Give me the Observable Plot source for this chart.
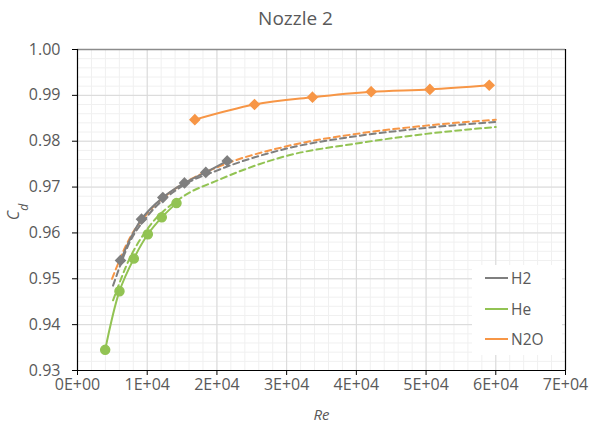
<!DOCTYPE html>
<html>
<head>
<meta charset="utf-8">
<script src="https://cdn.jsdelivr.net/npm/d3@7"></script>
<script src="https://cdn.jsdelivr.net/npm/@observablehq/plot@0.6"></script>
<style>
  body { margin: 0; background: #fff; }
  #wrap { position: relative; width: 590px; height: 427px; font-family: "Open Sans", sans-serif; }
  #legend { position: absolute; left: 472px; top: 265px; width: 90px; height: 90px; background: #fff; }
  .item { position: absolute; left: 0; height: 20px; display: flex; align-items: center; font-size: 15.5px; color: #595959; }
  .sw { display: inline-block; width: 23px; height: 2px; margin-left: 13px; margin-right: 3px; }
</style>
</head>
<body>
<div id="wrap"></div>
<script>
// ---- data ----
const seriesNames = ["H2", "He", "N2O"];
const seriesColors = ["#7f7f7f", "#92c353", "#f79646"];

// measured points
const h2Re  = [6170, 9180, 12240, 15350, 18400, 21480];
const h2Cd  = [0.9540, 0.9630, 0.9677, 0.9709, 0.9732, 0.9757];
const heRe  = [3970, 6020, 8080, 10090, 12090, 14200];
const heCd  = [0.9345, 0.9473, 0.9544, 0.9597, 0.9634, 0.9665];
const n2oRe = [16830, 25390, 33710, 42130, 50540, 59060];
const n2oCd = [0.9847, 0.9880, 0.9896, 0.9908, 0.9913, 0.9922];

// dashed trend curves
const h2FitRe  = [5100, 7500, 10000, 15000, 20000, 30000, 40000, 50000, 60000];
const h2FitCd  = [0.9485, 0.9580, 0.9636, 0.9702, 0.9736, 0.9784, 0.9811, 0.9829, 0.9842];
const heFitRe  = [5100, 7500, 10000, 15000, 20000, 30000, 40000, 50000, 60000];
const heFitCd  = [0.9453, 0.9545, 0.9608, 0.9678, 0.9714, 0.9768, 0.9795, 0.9816, 0.9831];
const n2oFitRe = [4950, 7500, 10000, 15000, 20000, 30000, 40000, 50000, 60000];
const n2oFitCd = [0.9500, 0.9589, 0.9642, 0.9706, 0.9743, 0.9789, 0.9816, 0.9834, 0.9847];

// axes
const xTicks = [0, 10000, 20000, 30000, 40000, 50000, 60000, 70000];
const xTickLabels = ["0E+00", "1E+04", "2E+04", "3E+04", "4E+04", "5E+04", "6E+04", "7E+04"];
const yTicks = [0.93, 0.94, 0.95, 0.96, 0.97, 0.98, 0.99, 1.00];
const xMinor = d3.range(0, 70001, 2000);
const yMinor = d3.range(0, 36).map(i => 0.93 + i * 0.002);
const titleText = "Nozzle 2";
const xLabel = "Re";

// ---- tables ----
const mk = (name, re, cd) => re.map((r, i) => ({series: name, re: r, cd: cd[i]}));
const h2 = mk("H2", h2Re, h2Cd);
const he = mk("He", heRe, heCd);
const n2o = mk("N2O", n2oRe, n2oCd);
const h2Fit = mk("H2", h2FitRe, h2FitCd);
const heFit = mk("He", heFitRe, heFitCd);
const n2oFit = mk("N2O", n2oFitRe, n2oFitCd);

const txt = "#595959";
const chart = Plot.plot({
  width: 590,
  height: 427,
  marginTop: 49,
  marginBottom: 57,
  marginLeft: 77,
  marginRight: 25,
  style: {fontFamily: "'Open Sans', sans-serif", fontSize: "16px", background: "#fff", color: txt},
  x: {domain: [0, 70000]},
  y: {domain: [0.93, 1.0]},
  color: {domain: seriesNames, range: seriesColors},
  marks: [
    Plot.gridX(xMinor, {stroke: "#f0f0f0", strokeOpacity: 1}),
    Plot.gridY(yMinor, {stroke: "#f0f0f0", strokeOpacity: 1}),
    Plot.gridX(xTicks, {stroke: "#d9d9d9", strokeOpacity: 1}),
    Plot.gridY(yTicks, {stroke: "#d9d9d9", strokeOpacity: 1}),
    Plot.ruleY([1.0], {stroke: "#8c8c8c", strokeWidth: 1.5}),
    Plot.ruleX([70000], {stroke: "#000", strokeWidth: 1.2}),
    Plot.ruleX([0], {stroke: "#000", strokeWidth: 1.2}),
    Plot.ruleY([0.93], {stroke: "#000", strokeWidth: 1.2}),
    Plot.axisY({ticks: yTicks, tickFormat: d3.format(".2f"), tickSize: 5, tickPadding: 12, stroke: "#000", fill: txt, fontSize: 16, label: null}),
    Plot.axisX({ticks: xTicks, tickFormat: d => xTickLabels[xTicks.indexOf(d)], tickSize: 5, tickPadding: 3, stroke: "#000", fill: txt, fontSize: 16, label: null}),
    // dashed trend lines
    ...[n2oFit, h2Fit, heFit].map(d => Plot.line(d, {x: "re", y: "cd", stroke: "series", strokeWidth: 2, strokeDasharray: "6,4", curve: "monotone-x"})),
    // solid lines
    ...[h2, he, n2o].map(d => Plot.line(d, {x: "re", y: "cd", stroke: "series", strokeWidth: 2, curve: "catmull-rom"})),
    // markers
    Plot.dot(h2, {x: "re", y: "cd", fill: "series", stroke: "series", symbol: "diamond2", r: 4.3}),
    Plot.dot(he, {x: "re", y: "cd", fill: "series", stroke: "series", symbol: "circle", r: 4.5}),
    Plot.dot(n2o, {x: "re", y: "cd", fill: "series", stroke: "series", symbol: "diamond2", r: 4.3}),
    // title and x label
    Plot.text([titleText], {frameAnchor: "top", lineAnchor: "middle", dx: -26, dy: -31, fontSize: 19, fill: txt}),
    Plot.text([xLabel], {frameAnchor: "bottom", lineAnchor: "middle", dy: 45, fontStyle: "italic", fontSize: 15, fill: txt})
  ]
});

// y-axis title with subscript
const svg = d3.select(chart);
const yl = svg.append("text")
  .attr("transform", "translate(19,212) rotate(-90)")
  .attr("text-anchor", "middle")
  .attr("font-style", "italic")
  .attr("font-size", 16)
  .attr("fill", txt);
yl.append("tspan").text("C");
yl.append("tspan").attr("baseline-shift", "sub").attr("font-size", 12).text("d");

const wrap = document.getElementById("wrap");
wrap.appendChild(chart);

// legend overlay inside the plot area
const color = chart.scale("color");
const leg = document.createElement("div");
leg.id = "legend";
seriesNames.forEach((name, i) => {
  const it = document.createElement("div");
  it.className = "item";
  it.style.top = [3, 34, 64][i] + "px";
  const sw = document.createElement("span");
  sw.className = "sw";
  sw.style.background = color.apply(name);
  it.appendChild(sw);
  it.appendChild(document.createTextNode(name));
  leg.appendChild(it);
});
wrap.appendChild(leg);
</script>
</body>
</html>
